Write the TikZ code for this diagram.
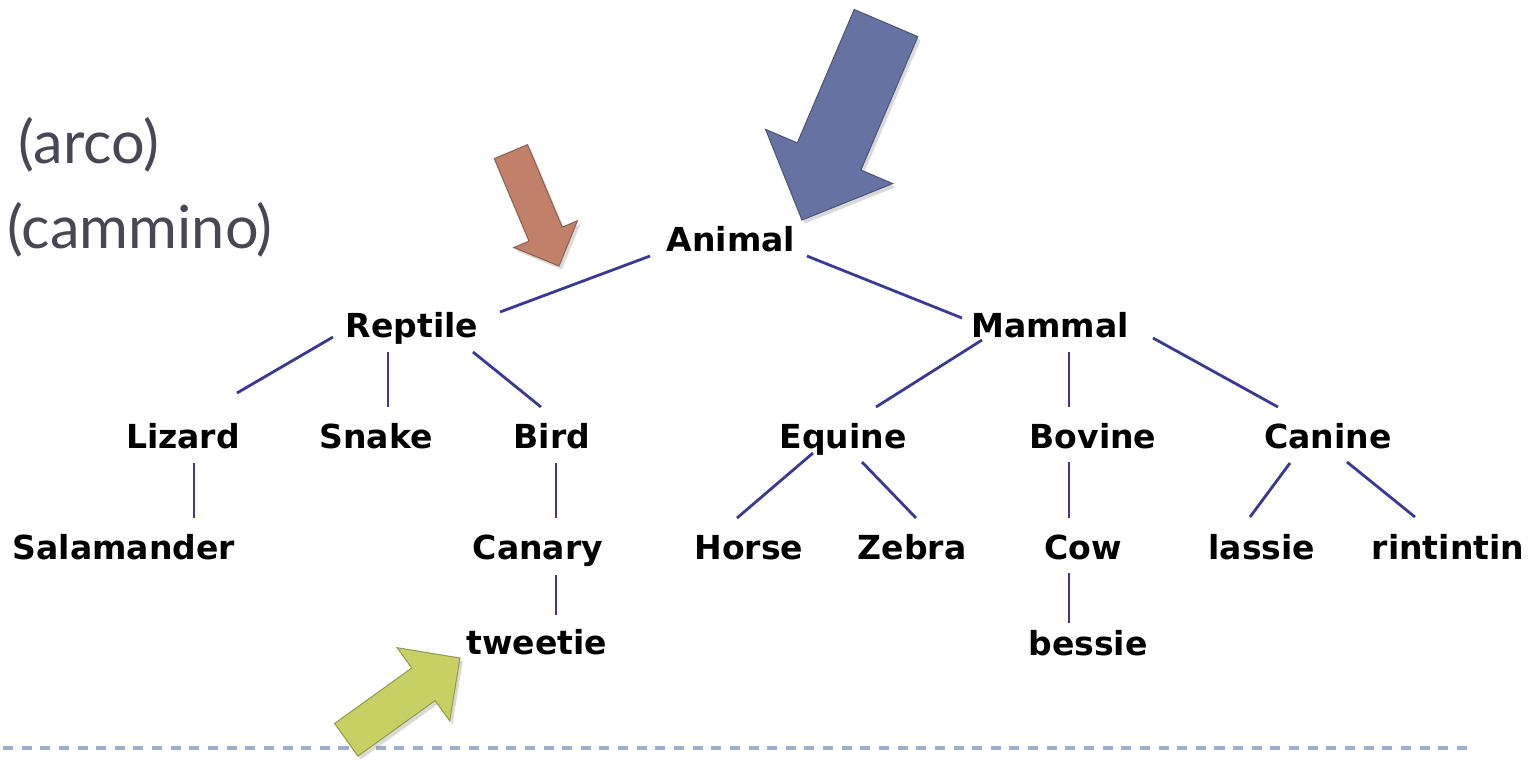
\documentclass[tikz,border=0pt]{standalone}
\usepackage{fontspec}
\usepackage{tikz}
\usetikzlibrary{shapes.arrows,shadows}
\newfontfamily\treefont{DejaVu Sans}
\newfontfamily\notefont{Lato}
\definecolor{edgeblue}{RGB}{58,58,150}
\definecolor{notegray}{RGB}{72,72,84}
\definecolor{rulegray}{RGB}{155,177,203}
\definecolor{arrowblue}{RGB}{102,114,162}
\definecolor{arrowbrown}{RGB}{192,128,106}
\definecolor{arrowgreen}{RGB}{200,208,100}

\begin{document}
\begin{tikzpicture}[x=0.01cm,y=-0.01cm]
        \tikzset{taxon/.style={font=\treefont\bfseries\fontsize{9.4}{11}\selectfont,
                inner sep=0pt, text height=6.85pt, text depth=0pt},
            note/.style={font=\notefont\fontsize{16.9}{20}\selectfont,
                text=notegray, inner sep=0pt, anchor=base west},
            edge/.style={draw=edgeblue, line width=0.8pt},
            pointer/.style={single arrow, fill=#1, draw=#1!75!black, line width=0.3pt,
                single arrow tip angle=90, inner xsep=0pt, outer sep=0pt, anchor=tip,
                drop shadow={opacity=0.3, shadow xshift=0.8pt, shadow yshift=-1pt}}}
        \useasboundingbox (0,0) rectangle (1532,759);
        \node[note] (arco) at (18,163) {(arco)};
        \node[note] (cammino) at (7,248) {(cammino)};
        \node[taxon] (animal) at (731,239) {Animal};
        \node[taxon] (reptile) at (412,325) {Reptile};
        \node[taxon] (mammal) at (1050,325) {Mammal};
        \node[taxon] (lizard) at (183,436) {Lizard};
        \node[taxon] (snake) at (376,436) {Snake};
        \node[taxon] (bird) at (552,436) {Bird};
        \node[taxon] (equine) at (843,436) {Equine};
        \node[taxon] (bovine) at (1093,436) {Bovine};
        \node[taxon] (canine) at (1328,436) {Canine};
        \node[taxon] (salamander) at (124,547) {Salamander};
        \node[taxon] (canary) at (538,547) {Canary};
        \node[taxon] (horse) at (749,547) {Horse};
        \node[taxon] (zebra) at (912,547) {Zebra};
        \node[taxon] (cow) at (1083,547) {Cow};
        \node[taxon] (lassie) at (1262,547) {lassie};
        \node[taxon] (rintintin) at (1448,547) {rintintin};
        \node[taxon] (tweetie) at (537,642) {tweetie};
        \node[taxon] (bessie) at (1088,643) {bessie};
        % edges: parent, offset, child, offset
        \foreach \a/\ax/\ay/\b/\bx/\by in {animal/-81/17/reptile/88/-13,
            animal/76/17/mammal/-88/-7, reptile/-79/12/lizard/54/-43,
            reptile/-24/27/snake/12/-29, reptile/61/27/bird/-11/-29,
            mammal/-68/15/equine/33/-29, mammal/19/27/bovine/-24/-29,
            mammal/103/13/canine/-50/-29, lizard/11/27/salamander/70/-29,
            bird/4/27/canary/18/-29, equine/-30/17/horse/-12/-29,
            equine/19/26/zebra/4/-29, bovine/-24/26/cow/-14/-29,
            canine/-38/27/lassie/-12/-30, canine/19/26/rintintin/-33/-30,
            canary/18/28/tweetie/19/-27, cow/-14/26/bessie/-19/-20}
            \draw[edge] ([shift={(\ax,\ay)}]\a.center) -- ([shift={(\bx,\by)}]\b.center);
        \draw[rulegray, line width=1pt, dash pattern=on 2.85pt off 2.45pt] (3,748) -- (1470,748);
        \node[pointer=arrowblue, minimum height=2.14cm, inner ysep=0.34cm,
            single arrow head extend=0.345cm, rotate=246.9] (bluearrow) at (802,220) {};
        \node[pointer=arrowbrown, minimum height=1.24cm, inner ysep=0.175cm,
            single arrow head extend=0.165cm, rotate=-67.2] (brownarrow) at (559,266) {};
        \node[pointer=arrowgreen, minimum height=1.40cm, inner ysep=0.195cm,
            single arrow head extend=0.25cm, rotate=35.7] (greenarrow) at (460,658) {};
    \end{tikzpicture}
\end{document}
